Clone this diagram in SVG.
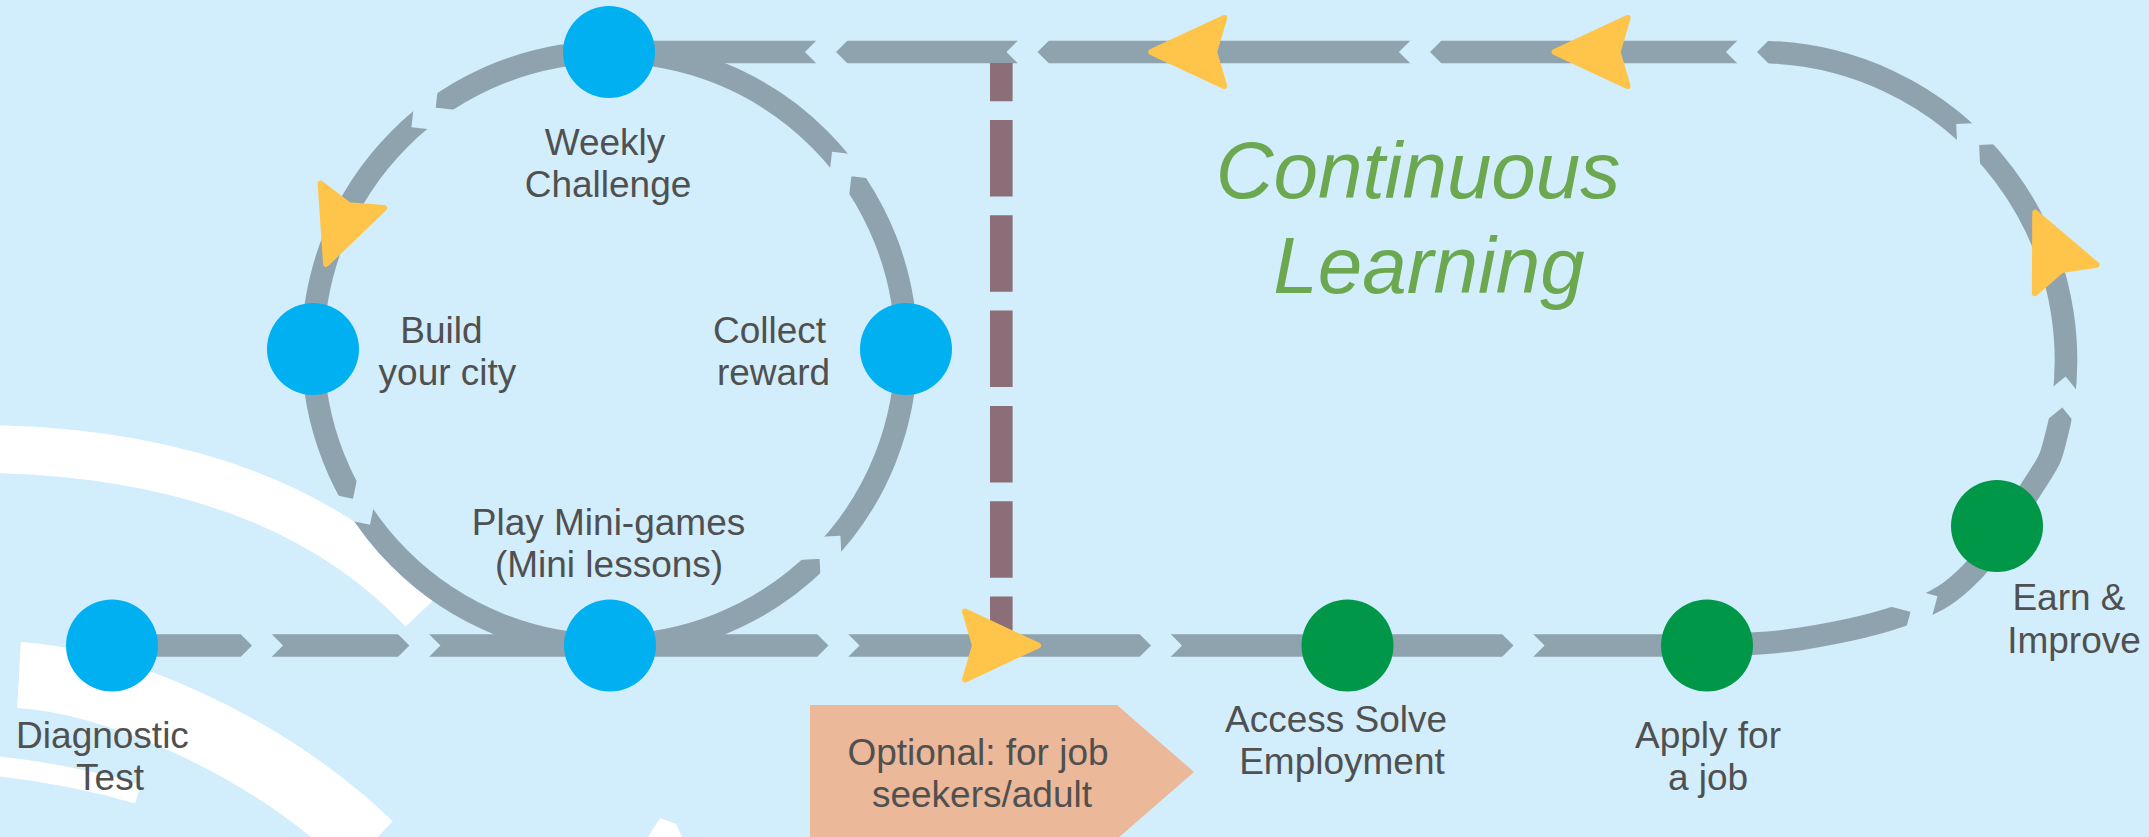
<svg xmlns="http://www.w3.org/2000/svg" width="2149" height="837" viewBox="0 0 2149 837">
<style>
.bg{fill:#D2EDFB}
.band{fill:none;stroke:#FFFFFF}
.trk{fill:none;stroke:#8FA3AE;stroke-width:22.6}
.gap{fill:none;stroke:#000;stroke-width:22;stroke-linejoin:miter}
.blue{fill:#00B0F0}
.green{fill:#009748}
.arr{fill:#FFC54A;stroke:#FFC54A;stroke-width:6;stroke-linejoin:round}
.lbl{font-family:"Liberation Sans",Arial,sans-serif;font-size:37px;fill:#505050;text-anchor:middle}
.big{font-family:"Liberation Sans",Arial,sans-serif;font-size:80px;font-style:italic;fill:#6BA84F;text-anchor:middle}
.dash{fill:none;stroke:#8B6E78;stroke-width:22.6;stroke-dasharray:76.5 18.8;stroke-dashoffset:38.3}
.opt{fill:#EBB89A}
</style>
<defs>
<path id="ah" d="M-3,0 L-76,-34 L-66,0 L-76,34 Z"/>
<mask id="gaps" maskUnits="userSpaceOnUse" x="0" y="0" width="2149" height="837">
<rect width="2149" height="837" fill="#FFFFFF"/>
<g class="gap">
<polyline points="241.5,619.5 267.5,645.5 241.5,671.5"/>
<polyline points="398.9,619.5 424.9,645.5 398.9,671.5"/>
<polyline points="818,619.5 844,645.5 818,671.5"/>
<polyline points="1140.5,619.5 1166.5,645.5 1140.5,671.5"/>
<polyline points="1503,619.5 1529,645.5 1503,671.5"/>
<polyline points="846.5,26 820.5,52 846.5,78"/>
<polyline points="1048,26 1022,52 1048,78"/>
<polyline points="1440.5,26 1414.5,52 1440.5,78"/>
<polyline points="1767.5,26 1741.5,52 1767.5,78"/>
<polyline points="793.3,549.2 830,547.3 831.9,584"/>
<polyline points="837.5,200.5 841.7,164 878.2,168.2"/>
<polyline points="460.2,121.5 423.6,117.5 427.6,81"/>
<polyline points="369,475.7 361.5,511.7 325.5,504.2"/>
<polyline points="1888.5,594.5 1924,604 1914.5,639.5"/>
<polyline points="2035.4,415.1 2064,392 2087.1,420.6"/>
<polyline points="1969.3,170.7 1967.7,134.4 2004.7,132.7"/>
</g>
</mask>
</defs>
<rect class="bg" x="0" y="0" width="2149" height="837"/>
<g id="background-bands">
<path class="band" stroke-width="48" d="M-10,449 C150,452 310,490 423,610"/>
<path class="band" stroke-width="66" d="M19,675 C110,680 260,740 370,845"/>
<path class="band" stroke-width="20" d="M-5,766 Q70,774 138,794"/>
<polygon fill="#FFFFFF" points="648,837 660,818 676,824 682,837"/>
</g>
<g id="connectors">
<g id="tracks" mask="url(#gaps)">
<path class="trk" d="M112,645.5 L1707,645.5 C1738,644.4 1766.5,644.4 1800,639 C1833.5,633.6 1879.3,624.2 1908,613 C1936.7,601.8 1950.5,594.2 1972,572 C1993.5,549.8 2023,501.2 2037,480 C2050.7,458.8 2050.4,457.5 2054,445 A308,308 0 0 0 1758,52 L609,52"/>
<circle class="trk" cx="609.5" cy="348.75" r="296.75"/>
</g>
<line id="optional-path" class="dash" x1="1001.3" y1="63" x2="1001.3" y2="634"/>
<g id="arrowheads" class="arr">
<use href="#ah" transform="translate(1041,645.5)"/>
<use href="#ah" transform="translate(1148.2,52) rotate(180)"/>
<use href="#ah" transform="translate(1551.6,52) rotate(180)"/>
<use href="#ah" transform="translate(325,266.7) rotate(111.1)"/>
<use href="#ah" transform="translate(2034,210) rotate(-114.7)"/>
</g>
</g>
<g id="node-weekly">
<circle class="blue" cx="609" cy="52" r="46"/>
<text class="lbl" x="605" y="155">Weekly</text>
<text class="lbl" x="608" y="197">Challenge</text>
</g>
<g id="node-build">
<circle class="blue" cx="313" cy="349" r="46"/>
<text class="lbl" x="441.5" y="343">Build</text>
<text class="lbl" x="447.5" y="385">your city</text>
</g>
<g id="node-collect">
<circle class="blue" cx="906" cy="349" r="46"/>
<text class="lbl" x="769.5" y="343">Collect</text>
<text class="lbl" x="773.5" y="385">reward</text>
</g>
<g id="node-minigames">
<circle class="blue" cx="610" cy="645.5" r="46"/>
<text class="lbl" x="608.5" y="535">Play Mini-games</text>
<text class="lbl" x="609" y="577">(Mini lessons)</text>
</g>
<g id="node-diagnostic">
<circle class="blue" cx="112" cy="645.5" r="46"/>
<text class="lbl" x="102.5" y="748">Diagnostic</text>
<text class="lbl" x="110" y="790">Test</text>
</g>
<g id="node-access">
<circle class="green" cx="1347.5" cy="645.5" r="46"/>
<text class="lbl" x="1336" y="732">Access Solve</text>
<text class="lbl" x="1342" y="774">Employment</text>
</g>
<g id="node-apply">
<circle class="green" cx="1707" cy="645.5" r="46"/>
<text class="lbl" x="1708" y="748">Apply for</text>
<text class="lbl" x="1708" y="790">a job</text>
</g>
<g id="node-earn">
<circle class="green" cx="1997" cy="526" r="46"/>
<text class="lbl" x="2069" y="610">Earn &amp;</text>
<text class="lbl" x="2074" y="653">Improve</text>
</g>
<g id="node-optional">
<polygon class="opt" points="810,705 1117,705 1194,772 1117,839 810,839"/>
<text class="lbl" x="978" y="765">Optional: for job</text>
<text class="lbl" x="982" y="807">seekers/adult</text>
</g>
<g id="title">
<text class="big" x="1418" y="198">Continuous</text>
<text class="big" x="1429" y="293">Learning</text>
</g>
</svg>
